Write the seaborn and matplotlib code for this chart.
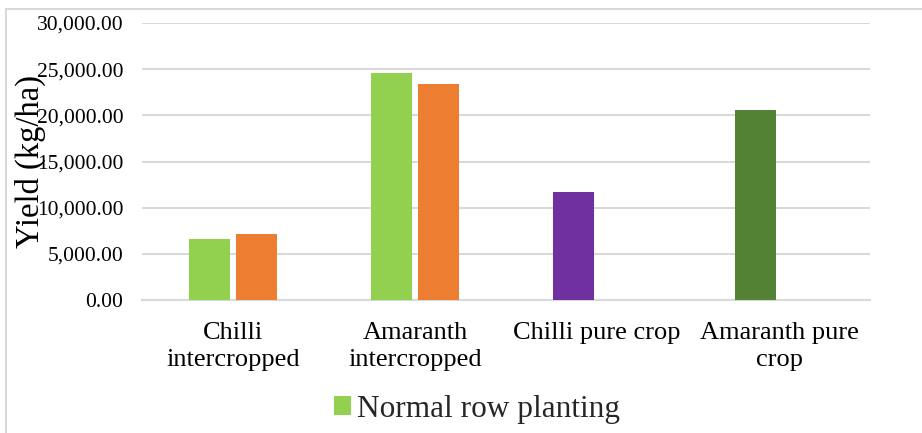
import matplotlib
matplotlib.use("Agg")
import matplotlib.pyplot as plt
from matplotlib.lines import Line2D
from matplotlib.patches import Patch
import pandas as pd
import seaborn as sns

# Yield by cropping system (kg/ha)
categories = ["Chilli\nintercropped", "Amaranth\nintercropped",
              "Chilli pure crop", "Amaranth pure\ncrop"]
normal_row = [6600, 24600, 11700, 20600]
second_row_cats = ["Chilli\nintercropped", "Amaranth\nintercropped"]
second_row = [7100, 23350]
series_names = ["Normal row planting", "Paired row planting"]
y_ticks = [0, 5000, 10000, 15000, 20000, 25000, 30000]

normal_colors = ["#92D050", "#92D050", "#7030A0", "#548235"]
second_colors = ["#ED7D31", "#ED7D31"]

df = pd.concat([
    pd.DataFrame({"crop": categories, "series": series_names[0], "yield": normal_row}),
    pd.DataFrame({"crop": second_row_cats, "series": series_names[1], "yield": second_row}),
], ignore_index=True)

sns.set_theme(style="white")
plt.rcParams["font.family"] = ["Liberation Serif", "DejaVu Serif"]

W, H = 922, 433
fig = plt.figure(figsize=(W / 100, H / 100), dpi=100)
ax = fig.add_axes([142 / W, 1 - 300 / H, (870 - 142) / W, (300 - 23) / H])

sns.barplot(data=df, x="crop", y="yield", hue="series", order=categories,
            hue_order=series_names, width=0.51, gap=0.12, errorbar=None,
            legend=False, ax=ax, zorder=3)

for bar, c in zip(ax.containers[0], normal_colors):
    bar.set_facecolor(c)
    bar.set_edgecolor("none")
for bar, c in zip(ax.containers[1], second_colors):
    bar.set_facecolor(c)
    bar.set_edgecolor("none")

ax.set_xlim(-0.5, len(categories) - 0.5)
ax.set_ylim(0, 30000)
ax.set_yticks(y_ticks)
ax.set_yticklabels([f"{v:,.2f}" for v in y_ticks])
ax.yaxis.grid(True, color="#D9D9D9", linewidth=1.5, zorder=0)
ax.set_axisbelow(True)
for s in ["top", "right", "left"]:
    ax.spines[s].set_visible(False)
ax.spines["bottom"].set_color("#D9D9D9")
ax.spines["bottom"].set_linewidth(1.5)
ax.tick_params(axis="y", length=0, pad=13.5, labelsize=15.5, colors="#000000")
ax.tick_params(axis="x", length=0, pad=16, labelsize=19, colors="#000000")
for lab in ax.get_xticklabels():
    lab.set_linespacing(1.3)
ax.set_xlabel("")
ax.set_ylabel("Yield (kg/ha)", fontsize=23.5, color="#000000")
ax.yaxis.set_label_coords((46 - 142) / (870 - 142), 0.5)

handles = [Patch(facecolor=normal_colors[0], edgecolor="none")]
fig.legend(handles, [series_names[0]], loc="center", bbox_to_anchor=(477 / W, 1 - 409 / H),
           frameon=False, fontsize=22.5, handlelength=0.55, handleheight=0.55,
           handletextpad=0.2, borderpad=0)

# chart area border
fig.add_artist(Line2D([6 / W, 1], [1 - 9 / H, 1 - 9 / H], color="#D9D9D9", linewidth=1.5))
fig.add_artist(Line2D([6 / W, 6 / W], [0, 1 - 9 / H], color="#D9D9D9", linewidth=1.5))

fig.savefig("out.png", dpi=100, facecolor="white")
